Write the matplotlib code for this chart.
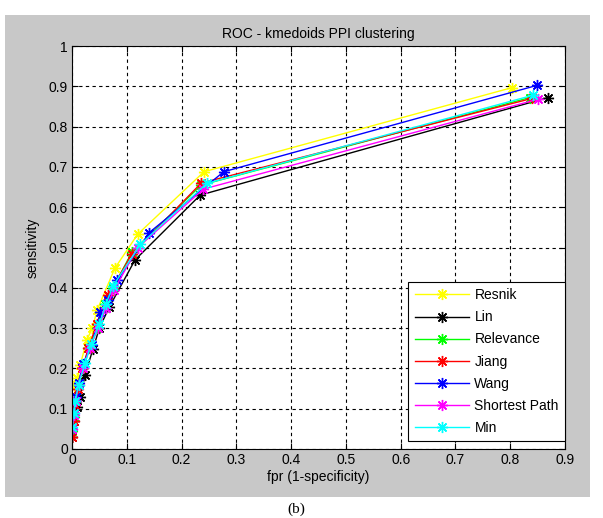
import matplotlib
matplotlib.use("Agg")
import matplotlib.pyplot as plt
from matplotlib.patches import Rectangle

# ROC points (fpr, sensitivity)
resnik_x = [0, 0.003, 0.006, 0.01, 0.015, 0.027, 0.037, 0.046, 0.078, 0.12, 0.241, 0.804]
resnik_y = [0.07, 0.11, 0.156, 0.175, 0.208, 0.27, 0.30, 0.345, 0.448, 0.533, 0.688, 0.897]

lin_x = [0, 0.004, 0.009, 0.015, 0.024, 0.038, 0.05, 0.068, 0.115, 0.234, 0.869]
lin_y = [0.03, 0.07, 0.105, 0.13, 0.184, 0.247, 0.30, 0.352, 0.469, 0.63, 0.872]

relevance_x = [0, 0.003, 0.007, 0.012, 0.02, 0.03, 0.045, 0.06, 0.075, 0.11, 0.236, 0.836]
relevance_y = [0.045, 0.08, 0.12, 0.16, 0.2, 0.25, 0.3, 0.36, 0.4, 0.49, 0.655, 0.872]

jiang_x = [0, 0.003, 0.006, 0.011, 0.019, 0.03, 0.045, 0.066, 0.109, 0.236, 0.84]
jiang_y = [0.03, 0.07, 0.11, 0.15, 0.2, 0.25, 0.31, 0.382, 0.483, 0.66, 0.87]

wang_x = [0, 0.003, 0.007, 0.012, 0.02, 0.036, 0.052, 0.065, 0.083, 0.141, 0.277, 0.848]
wang_y = [0.05, 0.09, 0.13, 0.165, 0.21, 0.258, 0.341, 0.37, 0.419, 0.537, 0.688, 0.902]

short_x = [0, 0.003, 0.007, 0.012, 0.02, 0.032, 0.048, 0.062, 0.077, 0.12, 0.24, 0.851]
short_y = [0.05, 0.085, 0.12, 0.16, 0.2, 0.25, 0.3, 0.35, 0.395, 0.5, 0.645, 0.868]

min_x = [0, 0.003, 0.006, 0.012, 0.024, 0.035, 0.05, 0.062, 0.075, 0.125, 0.246, 0.842]
min_y = [0.055, 0.09, 0.12, 0.16, 0.213, 0.26, 0.31, 0.36, 0.405, 0.508, 0.659, 0.878]

series = [
    ('Resnik', resnik_x, resnik_y, '#ffff00'),
    ('Lin', lin_x, lin_y, '#000000'),
    ('Relevance', relevance_x, relevance_y, '#00ff00'),
    ('Jiang', jiang_x, jiang_y, '#ff0000'),
    ('Wang', wang_x, wang_y, '#0000ff'),
    ('Shortest Path', short_x, short_y, '#ff00ff'),
    ('Min', min_x, min_y, '#00ffff'),
]

xticks = [0, 0.1, 0.2, 0.3, 0.4, 0.5, 0.6, 0.7, 0.8, 0.9]
yticks = [0, 0.1, 0.2, 0.3, 0.4, 0.5, 0.6, 0.7, 0.8, 0.9, 1]

plt.rcParams['font.family'] = ['Liberation Sans', 'DejaVu Sans']
plt.rcParams['font.size'] = 10

fig = plt.figure(figsize=(6.03, 5.18), dpi=100)
fig.patch.set_facecolor('white')
# gray MATLAB figure window behind the axes
fig.patches.append(Rectangle((5 / 603, 21 / 518), 585 / 603, 482 / 518,
                             transform=fig.transFigure, facecolor='#c8c8c8',
                             edgecolor='none', zorder=-5))

ax = fig.add_axes([72 / 603, 69 / 518, 493 / 603, 403 / 518])
ax.set_facecolor('white')

# MATLAB-style asterisk marker (+ and x combined)
star = (8, 2, 0)
for name, xs, ys, col in series:
    ax.plot(xs, ys, color=col, marker=star, markersize=8, linewidth=1,
            markeredgewidth=1.0, label=name)

ax.set_xlim(0, 0.9)
ax.set_ylim(0, 1)
ax.set_xticks(xticks)
ax.set_yticks(yticks)
ax.set_xticklabels([f'{t:g}' for t in xticks])
ax.set_yticklabels([f'{t:g}' for t in yticks])
ax.tick_params(direction='in', top=True, right=True, length=4, width=0.8, pad=3)
ax.grid(True, color='black', linestyle=(0, (3, 3)), linewidth=0.8)
for s in ax.spines.values():
    s.set_linewidth(0.8)

ax.set_title('ROC - kmedoids PPI clustering', fontsize=10, pad=6)
ax.set_xlabel('fpr (1-specificity)', labelpad=2)
ax.set_ylabel('sensitivity', labelpad=6)

leg = ax.legend(loc='lower right', bbox_to_anchor=(1.0, 0.02), borderaxespad=0,
                fancybox=False, framealpha=1, edgecolor='black',
                handlelength=3.9, labelspacing=0.58, fontsize=10,
                borderpad=0.45, handletextpad=0.4)
leg.get_frame().set_linewidth(0.8)

fig.text(296 / 603, 1 - 509 / 518, '(b)', ha='center', va='center',
         fontsize=11, family=['Liberation Serif', 'DejaVu Serif'])

fig.savefig('out.png', dpi=100, facecolor='white')
